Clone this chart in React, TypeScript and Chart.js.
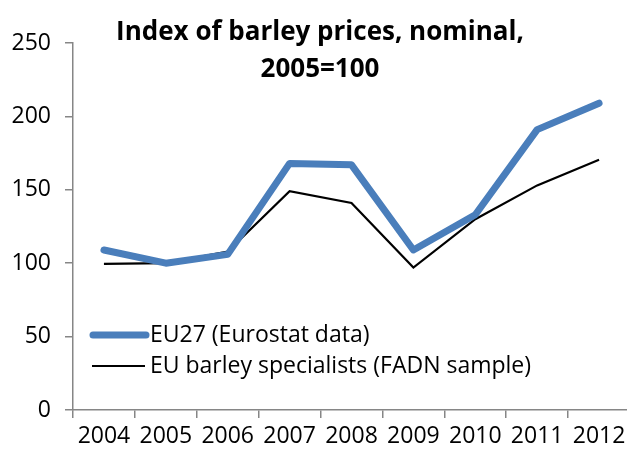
import React, { useEffect, useRef } from "react";
import { Chart, registerables } from "chart.js";

Chart.register(...registerables);

const years = ["2004", "2005", "2006", "2007", "2008", "2009", "2010", "2011", "2012"];
const eu27 = [109, 100, 106, 168, 167, 109, 133, 191, 209];
const fadn = [99.5, 100, 108, 149, 141, 97, 130, 153, 170.5];
const seriesNames = ["EU27 (Eurostat data)", "EU barley specialists (FADN sample)"];
const titleLines = ["Index of barley prices, nominal,", "2005=100"];
const yTicks = { min: 0, max: 250, step: 50 };

const FONT = "'Open Sans', 'DejaVu Sans', sans-serif";
const AXIS_GRAY = "#868686";

const overlayPlugin = {
  id: "overlay",
  afterDraw(chart: any) {
    const ctx = chart.ctx;
    const area = chart.chartArea;
    ctx.save();
    // title
    ctx.fillStyle = "#000";
    ctx.textAlign = "center";
    ctx.textBaseline = "middle";
    ctx.font = `bold 26px ${FONT}`;
    const cx = 320;
    titleLines.forEach((t, i) => ctx.fillText(t, cx, 33 + i * 37));
    // legend
    const ds = chart.data.datasets;
    ds.forEach((d: any, i: number) => {
      const y = area.bottom - 75 + i * 31;
      ctx.beginPath();
      ctx.strokeStyle = d.borderColor;
      ctx.lineWidth = d.borderWidth;
      ctx.lineCap = i === 0 ? "round" : "butt";
      ctx.moveTo(area.left + (i === 0 ? 20 : 19), y);
      ctx.lineTo(area.left + (i === 0 ? 73 : 72), y);
      ctx.stroke();
      ctx.fillStyle = "#000";
      ctx.textAlign = "left";
      ctx.textBaseline = "middle";
      ctx.font = `23px ${FONT}`;
      ctx.fillText(d.label, area.left + 77, y);
    });
    ctx.restore();
  },
};

export default function App() {
  const ref = useRef<HTMLCanvasElement>(null);
  useEffect(() => {
    if (!ref.current) return;
    const chart = new Chart(ref.current, {
      type: "line",
      data: {
        labels: years,
        datasets: [
          {
            label: seriesNames[0],
            data: eu27,
            borderColor: "#4A7EBB",
            backgroundColor: "#4A7EBB",
            borderWidth: 7,
            pointRadius: 0,
            tension: 0,
            borderCapStyle: "round",
            borderJoinStyle: "round",
          },
          {
            label: seriesNames[1],
            data: fadn,
            borderColor: "#000000",
            backgroundColor: "#000000",
            borderWidth: 2.2,
            pointRadius: 0,
            tension: 0,
            borderJoinStyle: "miter",
          },
        ],
      },
      options: {
        animation: false,
        responsive: false,
        maintainAspectRatio: false,
        layout: { padding: { top: 43, right: 2, left: 0, bottom: 0 } },
        plugins: {
          legend: { display: false },
          title: { display: false },
          tooltip: { enabled: false },
        },
        scales: {
          x: {
            type: "category",
            offset: true,
            grid: {
              offset: true,
              drawOnChartArea: false,
              drawTicks: true,
              tickLength: 8,
              color: AXIS_GRAY,
              lineWidth: 1.5,
            },
            border: { color: AXIS_GRAY, width: 1.5 },
            ticks: {
              color: "#000",
              font: { family: FONT, size: 23 },
              padding: 5,
              maxRotation: 0,
              autoSkip: false,
            },
            afterFit(scale: any) {
              scale.height = 46;
            },
          },
          y: {
            min: yTicks.min,
            max: yTicks.max,
            grid: {
              drawOnChartArea: false,
              drawTicks: true,
              tickLength: 8,
              color: AXIS_GRAY,
              lineWidth: 1.5,
            },
            border: { color: AXIS_GRAY, width: 1.5 },
            ticks: {
              stepSize: yTicks.step,
              color: "#000",
              font: { family: FONT, size: 23 },
              padding: 14,
            },
            afterFit(scale: any) {
              scale.width = 73;
            },
          },
        },
      },
      plugins: [overlayPlugin],
    } as any);
    return () => chart.destroy();
  }, []);

  return (
    <div style={{ position: "fixed", left: 0, top: 0, width: 627, height: 456, overflow: "hidden", background: "#fff" }}>
      <canvas ref={ref} width={632} height={456} style={{ display: "block", width: 632, height: 456 }} />
    </div>
  );
}
